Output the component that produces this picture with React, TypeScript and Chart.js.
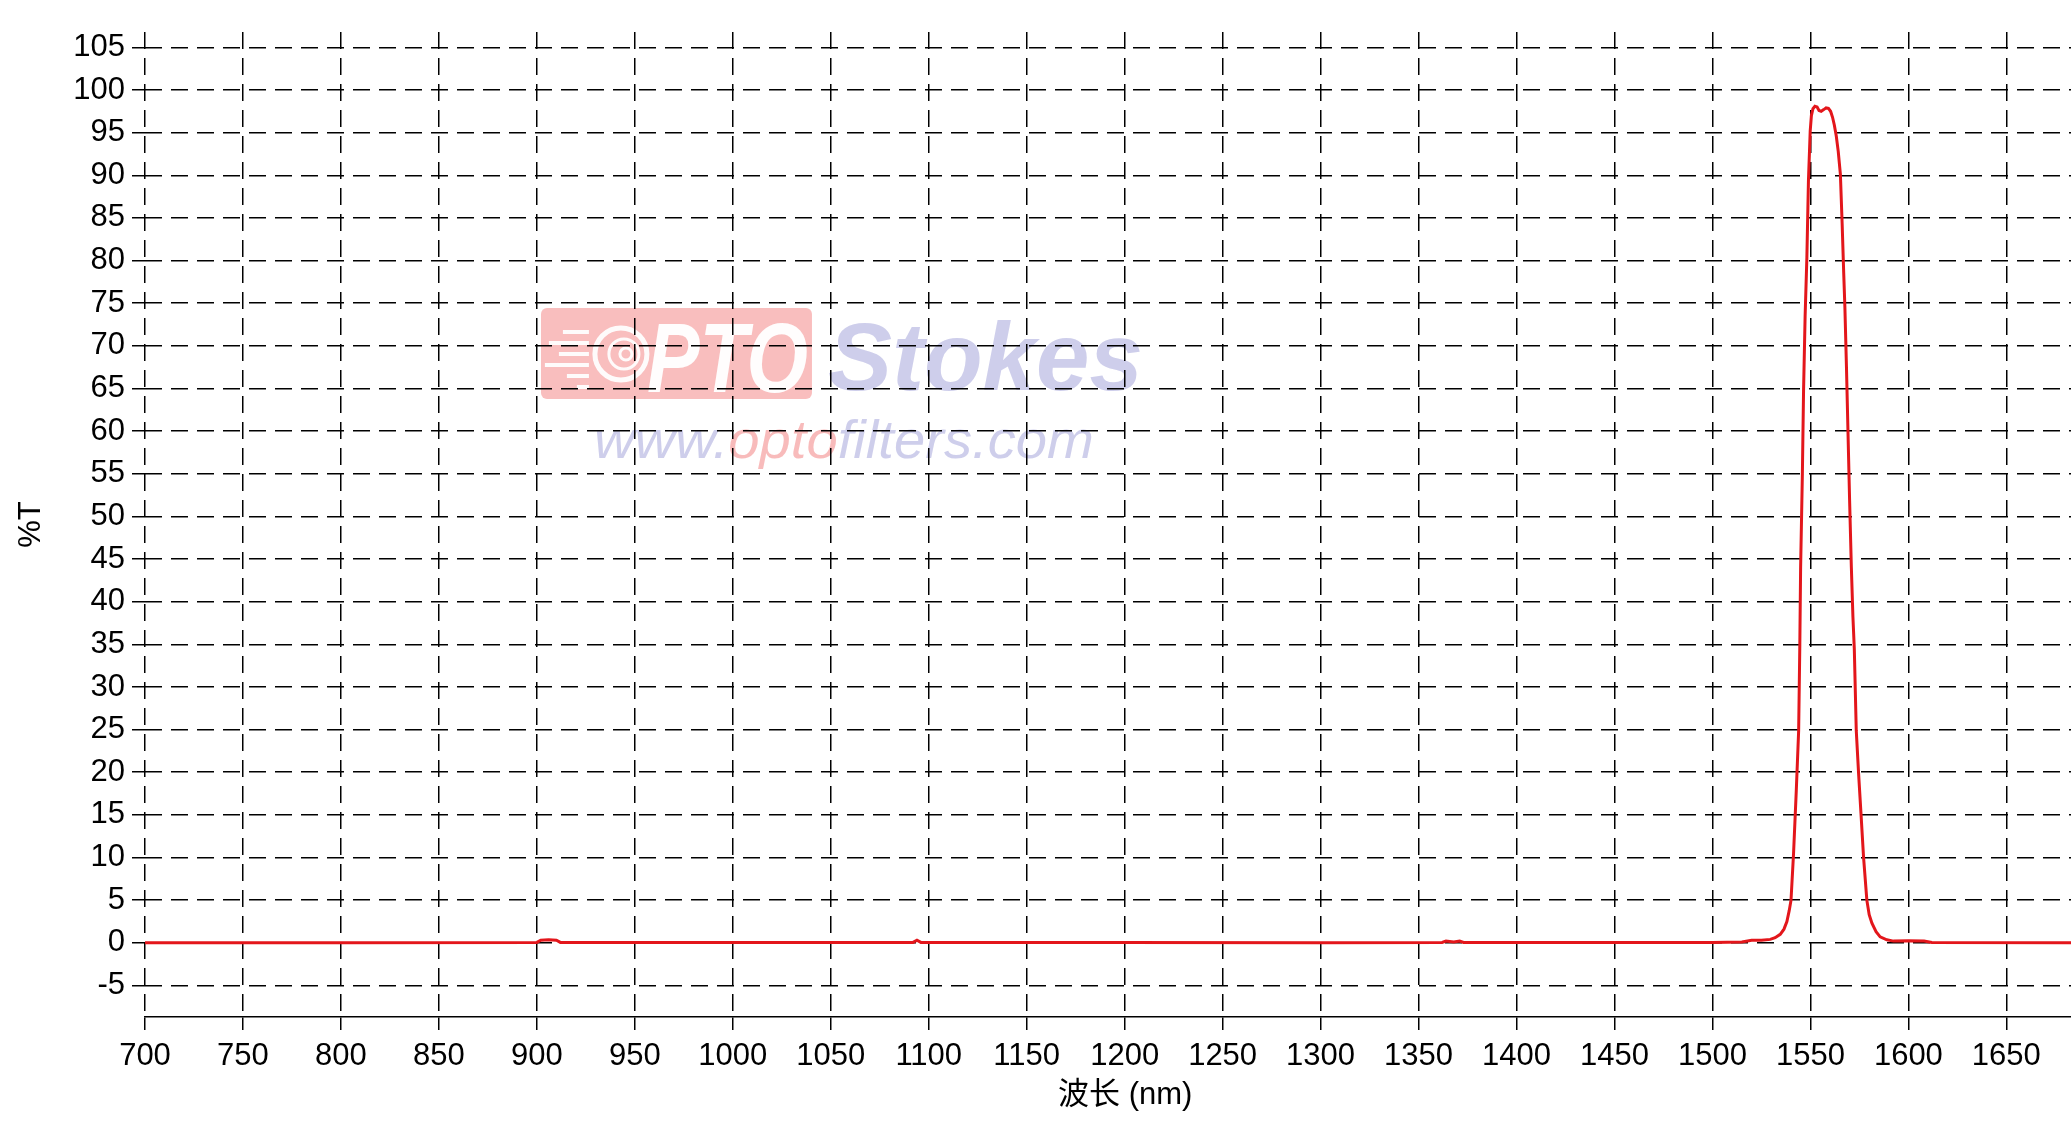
import React, { useEffect, useRef } from "react";
import { Chart, registerables } from "chart.js";

Chart.register(...registerables);

const wavelengths = [
  700, 800, 900, 902, 906, 910, 912, 950, 1000, 1092, 1094, 1096, 1200, 1300,
  1362, 1364, 1368, 1371, 1373, 1450, 1500, 1515, 1520, 1525, 1529.5, 1532,
  1534.6, 1536.5, 1538.0, 1539.2, 1540.1, 1541.4, 1542.8, 1544.0, 1544.6,
  1545.0, 1545.9, 1546.5, 1547.3, 1548.2, 1549.0, 1549.9, 1550.5, 1551.3,
  1552.3, 1553.4, 1554.4, 1555.5, 1556.8, 1558.0, 1559.2, 1560.3, 1561.3,
  1562.2, 1563.2, 1564.2, 1565.3, 1566.2,
  1567.0, 1567.6, 1568.4, 1569.2, 1570.0, 1570.9, 1571.7, 1572.4, 1573.4,
  1574.6, 1575.8, 1577.1, 1578.8, 1580.0, 1581.4, 1583.5, 1585.6, 1589.0,
  1592.4, 1600, 1608, 1612, 1683,
];

const transmission = [
  0, 0.02, 0.05, 0.3, 0.35, 0.3, 0.05, 0.05, 0.03, 0.05, 0.3, 0.05, 0.03, 0.02,
  0.05, 0.2, 0.1, 0.2, 0.05, 0.05, 0.05, 0.1, 0.3, 0.3, 0.4, 0.6,
  1.0, 1.6, 2.5, 3.8, 5.0, 10.5, 17.9, 24.9, 35,
  44, 55, 64.7, 73.5, 80.4, 89.4, 95.2, 97.0, 97.8,
  98.1, 98.0, 97.6, 97.5, 97.7, 97.9, 97.85, 97.5, 96.8,
  95.9, 94.6, 92.8, 90.1, 84.3,
  78.5, 74.5, 67.5, 59.7, 51.9, 44, 38.2, 34.5, 24.9,
  19.8, 15.2, 10.1, 5.0, 3.3, 2.3, 1.3, 0.7, 0.35,
  0.2, 0.25, 0.2, 0.05, 0,
];

const xTicks = [700, 750, 800, 850, 900, 950, 1000, 1050, 1100, 1150, 1200, 1250, 1300, 1350, 1400, 1450, 1500, 1550, 1600, 1650];
const yTicks = [-5, 0, 5, 10, 15, 20, 25, 30, 35, 40, 45, 50, 55, 60, 65, 70, 75, 80, 85, 90, 95, 100, 105];

const xTitle = "\u00a0\u00a0\u00a0\u00a0波长 (nm)";
const yTitle = "%T";

const FONT = '"Liberation Sans", Arial, "Noto Sans CJK SC", sans-serif';

const LAV = "rgba(192, 192, 230, 0.78)";
const PINK = "rgba(246, 168, 168, 0.78)";

const watermark = {
  id: "watermark",
  beforeDraw(chart: any) {
    const { ctx, chartArea } = chart;
    const W = chartArea.right - chartArea.left;
    const H = chartArea.bottom - chartArea.top;
    const px = (f: number) => chartArea.left + f * W;
    const py = (f: number) => chartArea.top + f * H;
    ctx.save();
    // pink badge
    const rx = px(0.2056), ry = py(0.2802), rw = px(0.3463) - rx, rh = py(0.3726) - ry;
    ctx.fillStyle = "rgba(246, 165, 165, 0.72)";
    ctx.beginPath();
    ctx.roundRect(rx, ry, rw, rh, 6);
    ctx.fill();
    // logo circle
    ctx.strokeStyle = "rgba(255,255,255,0.95)";
    ctx.lineWidth = 5;
    const cx = px(0.2471), cy = py(0.3269);
    ctx.beginPath();
    ctx.arc(cx, cy, 26, 0, Math.PI * 2);
    ctx.stroke();
    ctx.lineWidth = 3;
    ctx.beginPath();
    ctx.arc(cx + 3, cy, 15, 0, Math.PI * 2);
    ctx.stroke();
    ctx.beginPath();
    ctx.arc(cx + 5, cy, 6, 0, Math.PI * 2);
    ctx.stroke();
    ctx.lineWidth = 4;
    const lines = [[-22, 26], [-11, 40], [0, 30], [11, 44], [22, 22], [33, 12]];
    lines.forEach(([dy, len]) => {
      ctx.beginPath();
      ctx.moveTo(cx - 32 - len, cy + dy);
      ctx.lineTo(cx - 32, cy + dy);
      ctx.stroke();
    });
    ctx.fillStyle = "rgba(255,255,255,0.97)";
    ctx.font = `italic bold 98px ${FONT}`;
    ctx.textBaseline = "alphabetic";
    ctx.fillText("PTO", px(0.2606), py(0.3655), px(0.3442) - px(0.2606));
    // Stokes
    ctx.fillStyle = LAV;
    ctx.font = `italic bold 96px ${FONT}`;
    ctx.fillText("Stokes", px(0.3546), py(0.3635), px(0.5187) - px(0.3546));
    // url
    ctx.font = `italic 54px ${FONT}`;
    const parts: [string, string][] = [
      ["www.", LAV],
      ["opto", PINK],
      ["filters.com", LAV],
    ];
    const total = parts.reduce((s, [t]) => s + ctx.measureText(t).width, 0);
    const target = px(0.4927) - px(0.2331);
    ctx.translate(px(0.2331), py(0.4325));
    ctx.scale(target / total, 1);
    let x = 0;
    parts.forEach(([t, c]) => {
      ctx.fillStyle = c;
      ctx.fillText(t, x, 0);
      x += ctx.measureText(t).width;
    });
    ctx.restore();
  },
};

export default function App() {
  const ref = useRef<HTMLCanvasElement>(null);
  useEffect(() => {
    document.body.style.margin = "0";
    const points = wavelengths.map((w, i) => ({ x: w, y: transmission[i] }));
    const gridOpts = {
      color: "#000",
      lineWidth: 1.5,
      drawTicks: true,
      tickLength: 13,
      tickBorderDash: [],
      tickColor: "#000",
      tickWidth: 1.5,
    };
    const chart = new Chart(ref.current!, {
      type: "line",
      data: {
        datasets: [
          {
            data: points,
            borderColor: "#e3161b",
            borderWidth: 3,
            pointRadius: 0,
            tension: 0,
            fill: false,
          },
        ],
      },
      options: {
        animation: false,
        responsive: true,
        maintainAspectRatio: false,
        layout: { padding: { top: 32, right: 0, left: 0, bottom: 0 } },
        plugins: { legend: { display: false }, tooltip: { enabled: false } },
        scales: {
          x: {
            type: "linear",
            min: 700,
            max: 1683,
            afterBuildTicks: (s: any) => {
              s.ticks = xTicks.map((v) => ({ value: v }));
            },
            afterFit: (s: any) => {
              s.height = 107;
            },
            grid: gridOpts,
            border: { display: true, color: "#000", width: 1.5, dash: [17, 9] },
            ticks: {
              color: "#000",
              font: { family: FONT, size: 31 },
              padding: 8,
              maxRotation: 0,
              autoSkip: false,
              callback: (v: any) => String(v),
            },
            title: {
              display: true,
              text: xTitle,
              color: "#000",
              font: { family: FONT, size: 31 },
              padding: { top: 0, bottom: 10 },
            },
          },
          y: {
            type: "linear",
            min: -8.7,
            max: 106.8,
            afterBuildTicks: (s: any) => {
              s.ticks = yTicks.map((v) => ({ value: v }));
            },
            afterFit: (s: any) => {
              s.width = 145;
            },
            grid: gridOpts,
            border: { display: false, dash: [17, 9] },
            ticks: {
              color: "#000",
              font: { family: FONT, size: 31 },
              padding: 7,
              autoSkip: false,
              callback: (v: any) => String(v),
            },
            title: {
              display: true,
              text: yTitle,
              color: "#000",
              font: { family: FONT, size: 31 },
              padding: { top: 13, bottom: 0 },
            },
          },
        },
      },
      plugins: [watermark],
    });
    return () => chart.destroy();
  }, []);
  return (
    <div style={{ position: "fixed", left: 0, top: 0, width: 2071, height: 1124, background: "#fff" }}>
      <canvas ref={ref} />
    </div>
  );
}
